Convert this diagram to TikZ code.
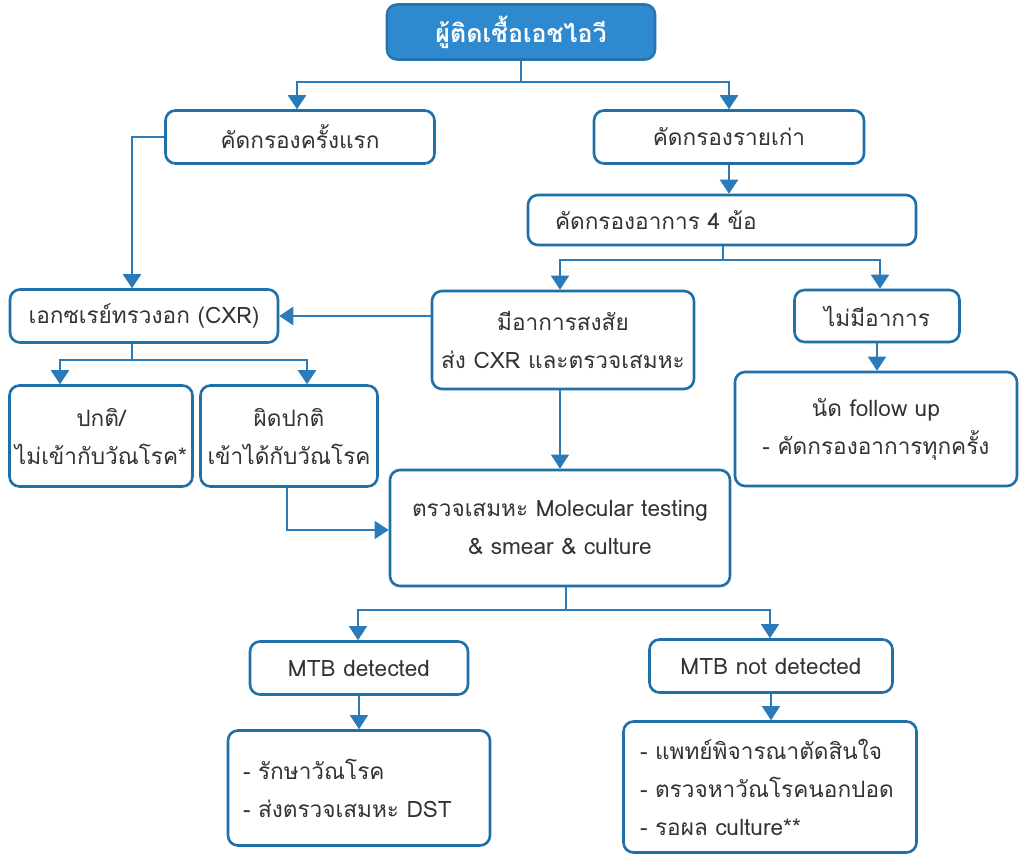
\documentclass[tikz,border=0pt]{standalone}
\usepackage{fontspec}
\setmainfont{Loma}[Script=Thai]
\usetikzlibrary{arrows.meta}

\definecolor{boxblue}{HTML}{1F6FA8}
\definecolor{lineblue}{HTML}{2B7BBA}
\definecolor{headblue}{HTML}{2F89CF}
\definecolor{txtgray}{HTML}{333333}

\begin{document}
\begin{tikzpicture}[x=0.5pt,y=-0.5pt]
    \tikzstyle{box}=[draw=boxblue,line width=1.3pt,rounded corners=5pt,fill=white,text=txtgray,align=center,inner sep=0pt,font=\fontsize{11.3}{19}\selectfont]
    \tikzstyle{head}=[box,fill=headblue,draw=headblue!85!black,text=white,font=\fontsize{12.5}{18}\selectfont\bfseries]
    \tikzstyle{arrow}=[draw=lineblue,line width=1.2pt,-{Triangle[width=9pt,length=7pt]},lineblue]
    \tikzstyle{thinarrow}=[arrow,line width=0.6pt]

    \useasboundingbox (0,0) rectangle (1019,855);

    \node[head,minimum width=134pt,minimum height=27.5pt] (1) at (521,32) {ผู้ติดเชื้อเอชไอวี};
    \node[box,minimum width=134.5pt,minimum height=26.5pt] (2) at (300,137) {คัดกรองครั้งแรก};
    \node[box,minimum width=135pt,minimum height=26.5pt] (3) at (729,137) {คัดกรองรายเก่า};
    \node[box,align=left,text width=167pt,inner xsep=13.5pt,minimum height=25pt] (4) at (722,220) {คัดกรองอาการ 4 ข้อ};
    \node[box,minimum width=134pt,minimum height=26.5pt] (5) at (144,316) {เอกซเรย์ทรวงอก (CXR)};
    \node[box,minimum width=131pt,minimum height=49pt] (6) at (563,340) {มีอาการสงสัย\\ส่ง CXR และตรวจเสมหะ};
    \node[box,minimum width=82.5pt,minimum height=26pt] (7) at (877,316) {ไม่มีอาการ};
    \node[box,minimum width=141pt,minimum height=57pt] (8) at (876,429) {นัด follow up\\-~คัดกรองอาการทุกครั้ง};
    \node[box,minimum width=91.5pt,minimum height=50.5pt] (9) at (101,436) {ปกติ/\\ไม่เข้ากับวัณโรค*};
    \node[box,minimum width=88.5pt,minimum height=50.5pt] (10) at (289,436) {ผิดปกติ\\เข้าได้กับวัณโรค};
    \node[box,minimum width=170pt,minimum height=58pt] (11) at (560,528) {ตรวจเสมหะ Molecular testing\\\& smear \& culture};
    \node[box,minimum width=109pt,minimum height=26.5pt] (12) at (359,668) {MTB detected};
    \node[box,minimum width=121.5pt,minimum height=26.5pt] (13) at (771,666) {MTB not detected};
    \node[box,align=left,text width=116pt,inner xsep=7.5pt,minimum height=57.5pt] (14) at (359,788) {-~รักษาวัณโรค\\-~ส่งตรวจเสมหะ DST\\[4pt]};
    \node[box,align=left,text width=130pt,inner xsep=8.25pt,minimum height=65.5pt] (15) at (770,787) {-~แพทย์พิจารณาตัดสินใจ\\-~ตรวจหาวัณโรคนอกปอด\\-~รอผล culture**};

    \coordinate (s1) at (521,82);
    \coordinate (s2) at (723,260);
    \coordinate (s3) at (132,360);
    \coordinate (s4) at (566,610);

    \path[arrow] (1.south -| s1) -- (s1) -| ([xshift=-1.5pt]2.north);
    \path[arrow] (s1) -| (3.north);
    \path[arrow] (2.west) -| ([xshift=-6pt]5.north);
    \path[arrow] (3.south) -- (3.south |- 4.north);
    \path[arrow,line width=0.9pt] (4.south -| s2) -- (s2) -| ([xshift=-1.5pt]6.north);
    \path[arrow,line width=0.9pt] (s2) -| ([xshift=1.5pt]7.north);
    \path[arrow] (6.west |- 5) -- (5.east);
    \path[arrow,line width=0.9pt] (7.south) -- (7.south |- 8.north);
    \path[arrow] (5.south -| s3) -- (s3) -| ([xshift=-20.5pt]9.north);
    \path[arrow] (s3) -| ([xshift=9pt]10.north);
    \path[thinarrow] ([xshift=-1pt]10.south) |- ([yshift=-1pt]11.west);
    \path[thinarrow] ([xshift=-1.5pt]6.south) -- ([xshift=-1.5pt]6.south |- 11.north);
    \path[thinarrow] (11.south -| s4) -- (s4) -| ([xshift=-0.5pt]12.north);
    \path[thinarrow] (s4) -| ([xshift=-0.5pt]13.north);
    \path[thinarrow] (12.south) -- (12.south |- 14.north);
    \path[thinarrow] (13.south) -- (13.south |- 15.north);
\end{tikzpicture}
\end{document}
